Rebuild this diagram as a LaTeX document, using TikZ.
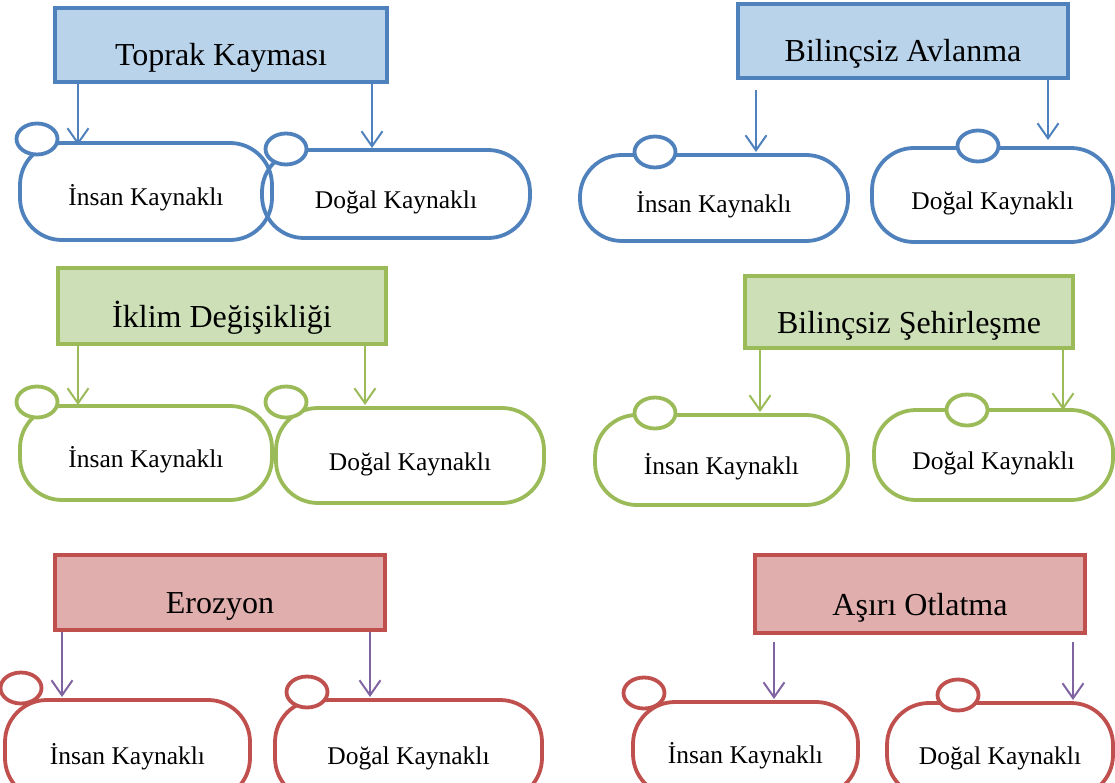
\documentclass[tikz,border=0pt]{standalone}
\usepackage{fontspec}
\setmainfont{Liberation Serif}
\usetikzlibrary{arrows.meta,shapes.geometric}
\definecolor{bline}{HTML}{4F81BD}
\definecolor{bfill}{HTML}{B9D3EB}
\definecolor{gline}{HTML}{9BBB59}
\definecolor{gfill}{HTML}{CDDFB7}
\definecolor{rline}{HTML}{C0504D}
\definecolor{rfill}{HTML}{E0AEAD}
\definecolor{purp}{HTML}{8064A2}
\tikzset{
  titlebox/.style={draw, line width=4.2pt, rectangle, inner sep=0pt,
    font=\fontsize{32}{34}\selectfont, text height=42pt, text depth=0pt},
  pill/.style={draw, line width=3.8pt, rectangle, rounded corners=42pt, inner sep=0pt,
    font=\fontsize{25.5}{27}\selectfont, text height=29pt, text depth=0pt},
  knob/.style={draw, line width=3.8pt, ellipse, fill=white, minimum width=41pt, minimum height=31pt, inner sep=0pt},
  arr/.style={line width=2pt, -{Straight Barb[length=15pt,width=21pt,line width=2pt]}},
}
\begin{document}
\begin{tikzpicture}[x=1pt,y=-1pt]
\useasboundingbox (0,0) rectangle (1115,783);
\clip (0,0) rectangle (1115,783);
% ---------- Block 1 ----------
\begin{scope}[bline]
\node[titlebox, fill=bfill, minimum width=332pt, minimum height=74pt, text=black] (t1) at (221,45) {Toprak Kayması};
\node[pill, minimum width=252pt, minimum height=97pt, text=black] (p1l) at (146,191.5) {İnsan Kaynaklı};
\node[pill, minimum width=268pt, minimum height=88pt, text=black] (p1r) at (396,194) {Doğal Kaynaklı};
\node[knob] (k1l) at (37,139) {};
\node[knob] (k1r) at (286,149) {};
\coordinate (a1l) at (78,145);
\coordinate (a1r) at (372,148);
\draw[arr] (t1.south -| a1l) -- (a1l);
\draw[arr] (t1.south -| a1r) -- (a1r);
\end{scope}
% ---------- Block 2 ----------
\begin{scope}[bline]
\node[titlebox, fill=bfill, minimum width=330pt, minimum height=74pt, text=black] (t2) at (903,41) {Bilinçsiz Avlanma};
\node[pill, minimum width=268pt, minimum height=86pt, text=black] (p2l) at (714,198) {İnsan Kaynaklı};
\node[pill, minimum width=241pt, minimum height=94pt, text=black] (p2r) at (992.5,195) {Doğal Kaynaklı};
\node[knob] (k2l) at (655,152) {};
\node[knob] (k2r) at (978,146) {};
\coordinate (a2l) at (756,152);
\coordinate (a2r) at (1048,140);
\draw[arr, shorten <=10pt] (t2.south -| a2l) -- (a2l);
\draw[arr] (t2.south -| a2r) -- (a2r);
\end{scope}
% ---------- Block 3 ----------
\begin{scope}[gline]
\node[titlebox, fill=gfill, minimum width=328pt, minimum height=76pt, text=black] (t3) at (222,306) {İklim Değişikliği};
\node[pill, minimum width=252pt, minimum height=94pt, text=black] (p3l) at (146,453) {İnsan Kaynaklı};
\node[pill, minimum width=268pt, minimum height=95pt, text=black] (p3r) at (410,455.5) {Doğal Kaynaklı};
\node[knob] (k3l) at (37,402) {};
\node[knob] (k3r) at (286,402) {};
\coordinate (a3l) at (78,405);
\coordinate (a3r) at (365,405);
\draw[arr] (t3.south -| a3l) -- (a3l);
\draw[arr] (t3.south -| a3r) -- (a3r);
\end{scope}
% ---------- Block 4 ----------
\begin{scope}[gline]
\node[titlebox, fill=gfill, minimum width=328pt, minimum height=72pt, text=black] (t4) at (909,312) {Bilinçsiz Şehirleşme};
\node[pill, minimum width=253pt, minimum height=90pt, text=black] (p4l) at (721.5,460) {İnsan Kaynaklı};
\node[pill, minimum width=239pt, minimum height=90pt, text=black] (p4r) at (993.5,455) {Doğal Kaynaklı};
\node[knob] (k4l) at (655,413) {};
\node[knob] (k4r) at (967,410) {};
\coordinate (a4l) at (760,412);
\coordinate (a4r) at (1063,410);
\draw[arr] (t4.south -| a4l) -- (a4l);
\draw[arr] (t4.south -| a4r) -- (a4r);
\end{scope}
% ---------- Block 5 ----------
\begin{scope}[rline]
\node[titlebox, fill=rfill, minimum width=330pt, minimum height=75pt, text=black] (t5) at (220,592.5) {Erozyon};
\node[pill, minimum width=245pt, minimum height=100pt, text=black] (p5l) at (127.5,750) {İnsan Kaynaklı};
\node[pill, minimum width=267pt, minimum height=100pt, text=black] (p5r) at (408.5,750) {Doğal Kaynaklı};
\node[knob] (k5l) at (21,688) {};
\node[knob] (k5r) at (307,692) {};
\coordinate (a5l) at (62,697);
\coordinate (a5r) at (370,697);
\draw[arr, purp] (t5.south -| a5l) -- (a5l);
\draw[arr, purp] (t5.south -| a5r) -- (a5r);
\end{scope}
% ---------- Block 6 ----------
\begin{scope}[rline]
\node[titlebox, fill=rfill, minimum width=330pt, minimum height=78pt, text=black] (t6) at (920,594) {Aşırı Otlatma};
\node[pill, minimum width=225pt, minimum height=94pt, text=black] (p6l) at (745.5,749) {İnsan Kaynaklı};
\node[pill, minimum width=226pt, minimum height=94pt, text=black] (p6r) at (1000,750) {Doğal Kaynaklı};
\node[knob] (k6l) at (644,693) {};
\node[knob] (k6r) at (958,695) {};
\coordinate (a6l) at (774,699);
\coordinate (a6r) at (1073,700);
\draw[arr, purp, shorten <=7pt] (t6.south -| a6l) -- (a6l);
\draw[arr, purp, shorten <=7pt] (t6.south -| a6r) -- (a6r);
\end{scope}
\end{tikzpicture}
\end{document}
